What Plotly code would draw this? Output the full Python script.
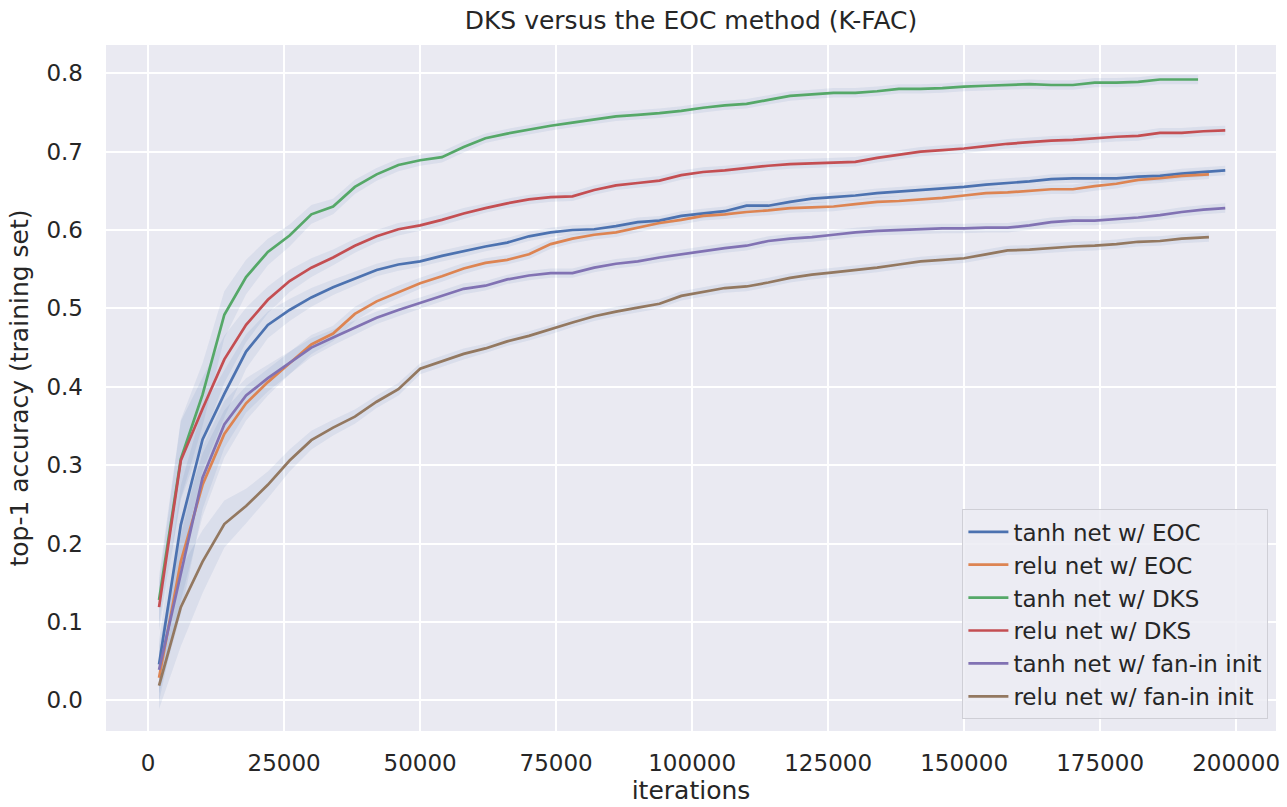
import plotly.graph_objects as go

# Logged training iterations (every 4000 steps), with the final logged step per run
iters_grid = list(range(2000, 194001, 4000))  # 2000 ... 194000

tanh_eoc = [0.046, 0.224, 0.333, 0.391, 0.445, 0.479, 0.498, 0.514, 0.527, 0.538,
            0.549, 0.556, 0.560, 0.567, 0.573, 0.579, 0.584, 0.592, 0.597, 0.600,
            0.601, 0.605, 0.610, 0.612, 0.618, 0.621, 0.624, 0.631, 0.631, 0.636,
            0.640, 0.642, 0.644, 0.647, 0.649, 0.651, 0.653, 0.655, 0.658, 0.660,
            0.662, 0.665, 0.666, 0.666, 0.666, 0.668, 0.669, 0.672, 0.674, 0.676]
relu_eoc = [0.029, 0.177, 0.275, 0.340, 0.379, 0.406, 0.430, 0.454, 0.468, 0.493,
            0.509, 0.521, 0.532, 0.541, 0.551, 0.558, 0.562, 0.569, 0.582, 0.589,
            0.594, 0.597, 0.603, 0.609, 0.613, 0.618, 0.620, 0.623, 0.625, 0.628,
            0.629, 0.630, 0.633, 0.636, 0.637, 0.639, 0.641, 0.644, 0.647, 0.648,
            0.650, 0.652, 0.652, 0.656, 0.659, 0.664, 0.666, 0.669, 0.671]
tanh_dks = [0.128, 0.308, 0.390, 0.492, 0.540, 0.572, 0.593, 0.620, 0.630, 0.655,
            0.671, 0.683, 0.689, 0.693, 0.706, 0.717, 0.723, 0.728, 0.733, 0.737,
            0.741, 0.745, 0.747, 0.749, 0.752, 0.756, 0.759, 0.761, 0.766, 0.771,
            0.773, 0.775, 0.775, 0.777, 0.780, 0.780, 0.781, 0.783, 0.784, 0.785,
            0.786, 0.785, 0.785, 0.788, 0.788, 0.789, 0.792, 0.792, 0.792]
relu_dks = [0.119, 0.306, 0.372, 0.435, 0.479, 0.511, 0.535, 0.552, 0.565, 0.580,
            0.592, 0.601, 0.606, 0.613, 0.621, 0.628, 0.634, 0.639, 0.642, 0.643,
            0.651, 0.657, 0.660, 0.663, 0.670, 0.674, 0.676, 0.679, 0.682, 0.684,
            0.685, 0.686, 0.687, 0.692, 0.696, 0.700, 0.702, 0.704, 0.707, 0.710,
            0.712, 0.714, 0.715, 0.717, 0.719, 0.720, 0.724, 0.724, 0.726, 0.727]
tanh_fanin = [0.039, 0.160, 0.284, 0.352, 0.389, 0.411, 0.430, 0.450, 0.463, 0.476,
              0.488, 0.498, 0.507, 0.516, 0.525, 0.529, 0.537, 0.542, 0.545, 0.545,
              0.552, 0.557, 0.560, 0.565, 0.569, 0.573, 0.577, 0.580, 0.586, 0.589,
              0.591, 0.594, 0.597, 0.599, 0.600, 0.601, 0.602, 0.602, 0.603, 0.603,
              0.606, 0.610, 0.612, 0.612, 0.614, 0.616, 0.619, 0.623, 0.626, 0.628]
relu_fanin = [0.019, 0.119, 0.177, 0.225, 0.248, 0.275, 0.306, 0.332, 0.348, 0.362,
              0.381, 0.397, 0.423, 0.433, 0.442, 0.449, 0.458, 0.465, 0.473, 0.482,
              0.490, 0.496, 0.501, 0.506, 0.516, 0.521, 0.526, 0.528, 0.533, 0.539,
              0.543, 0.546, 0.549, 0.552, 0.556, 0.560, 0.562, 0.564, 0.569, 0.574,
              0.575, 0.577, 0.579, 0.580, 0.582, 0.585, 0.586, 0.589, 0.591]

# Last logged iteration of each run
last_iter = {"tanh net w/ EOC": 198000, "relu net w/ EOC": 195000,
             "tanh net w/ DKS": 193000, "relu net w/ DKS": 198000,
             "tanh net w/ fan-in init": 198000, "relu net w/ fan-in init": 195000}

# Half-width of the spread across seeds at each logged step
spread = [0.030, 0.050, 0.040, 0.030, 0.022, 0.017, 0.014, 0.012, 0.010, 0.009,
          0.008, 0.008, 0.007, 0.007, 0.007, 0.006, 0.006, 0.006, 0.006, 0.006,
          0.006, 0.006, 0.006, 0.006, 0.006, 0.006, 0.006, 0.006, 0.006, 0.006,
          0.006, 0.006, 0.006, 0.006, 0.006, 0.006, 0.006, 0.006, 0.006, 0.006,
          0.006, 0.006, 0.006, 0.006, 0.006, 0.006, 0.006, 0.006, 0.006, 0.006]

series = [
    ("tanh net w/ EOC", tanh_eoc, "#4C72B0"),
    ("relu net w/ EOC", relu_eoc, "#DD8452"),
    ("tanh net w/ DKS", tanh_dks, "#55A868"),
    ("relu net w/ DKS", relu_dks, "#C44E52"),
    ("tanh net w/ fan-in init", tanh_fanin, "#8172B3"),
    ("relu net w/ fan-in init", relu_fanin, "#937860"),
]

band_color = "rgba(76,114,176,0.10)"
text_color = "#262626"

fig = go.Figure()


def iters_for(name, n):
    xs = iters_grid[: n - 1]
    return xs + [last_iter[name]]


# Shaded spread bands first so the mean lines sit on top
for name, ys, color in series:
    xs = iters_for(name, len(ys))
    lo = [y - s for y, s in zip(ys, spread)]
    hi = [y + s for y, s in zip(ys, spread)]
    fig.add_trace(go.Scatter(x=xs, y=lo, mode="lines", line=dict(width=0),
                             showlegend=False, hoverinfo="skip"))
    fig.add_trace(go.Scatter(x=xs, y=hi, mode="lines", line=dict(width=0),
                             fill="tonexty", fillcolor=band_color,
                             showlegend=False, hoverinfo="skip"))

for name, ys, color in series:
    xs = iters_for(name, len(ys))
    fig.add_trace(go.Scatter(x=xs, y=ys, mode="lines", name=name,
                             line=dict(color=color, width=2.7)))

font_family = "DejaVu Sans"

fig.update_layout(
    width=1287, height=807,
    margin=dict(l=106, r=7, t=45, b=74),
    paper_bgcolor="white",
    plot_bgcolor="#EAEAF2",
    font=dict(family=font_family, size=23, color=text_color),
    title=dict(text="DKS versus the EOC method (K-FAC)", x=0.5, xanchor="center",
               xref="paper", y=0.975, yanchor="middle",
               font=dict(size=25, color=text_color)),
    xaxis=dict(
        range=[-7750, 207330],
        tickvals=[0, 25000, 50000, 75000, 100000, 125000, 150000, 175000, 200000],
        ticktext=["0", "25000", "50000", "75000", "100000", "125000", "150000",
                  "175000", "200000"],
        tickfont=dict(size=23),
        showgrid=True, gridcolor="white", gridwidth=2, zeroline=False,
        showline=False, ticks="", ticklabelstandoff=16,
        title=dict(text="iterations", font=dict(size=25), standoff=6),
    ),
    yaxis=dict(
        range=[-0.039, 0.836],
        tickvals=[0.0, 0.1, 0.2, 0.3, 0.4, 0.5, 0.6, 0.7, 0.8],
        tickformat=".1f",
        tickfont=dict(size=23),
        showgrid=True, gridcolor="white", gridwidth=2, zeroline=False,
        showline=False, ticks="", ticklabelstandoff=22,
        title=dict(text="top-1 accuracy (training set)", font=dict(size=25), standoff=10),
    ),
    legend=dict(
        x=0.9935, y=0.017, xanchor="right", yanchor="bottom",
        traceorder="normal",
        bgcolor="rgba(236,236,243,0.85)", bordercolor="#CFCFD6", borderwidth=1,
        font=dict(size=23, color=text_color),
        itemwidth=40, tracegroupgap=0,
    ),
)

fig.write_html("out.html")
